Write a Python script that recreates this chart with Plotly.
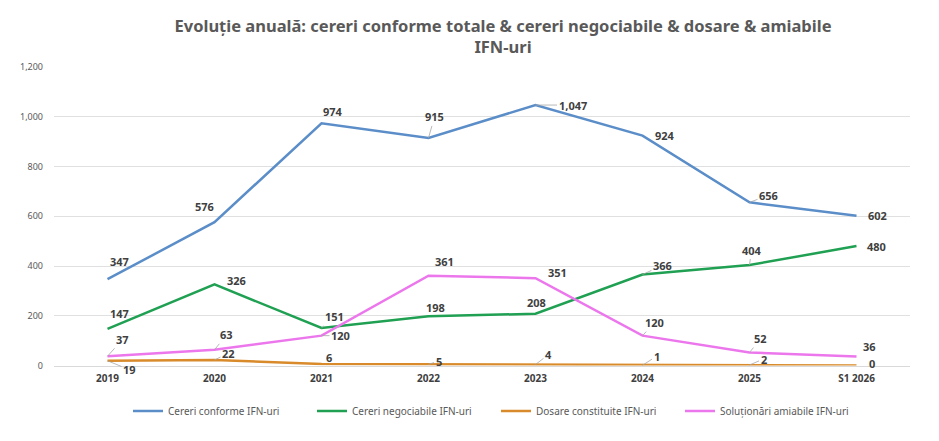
import plotly.graph_objects as go

# categorii (ani)
years = ["2019", "2020", "2021", "2022", "2023", "2024", "2025", "S1 2026"]

# serii
cereri_conforme = [347, 576, 974, 915, 1047, 924, 656, 602]
cereri_negociabile = [147, 326, 151, 198, 208, 366, 404, 480]
dosare_constituite = [19, 22, 6, 5, 4, 1, 2, 0]
solutionari_amiabile = [37, 63, 120, 361, 351, 120, 52, 36]

y_ticks = [0, 200, 400, 600, 800, 1000, 1200]

FONT = "Noto Sans"
TXT = "#404040"

series = [
    ("Cereri conforme IFN-uri", cereri_conforme, "#5b8ec8"),
    ("Cereri negociabile IFN-uri", cereri_negociabile, "#20a052"),
    ("Dosare constituite IFN-uri", dosare_constituite, "#d98b2b"),
    ("Soluționări amiabile IFN-uri", solutionari_amiabile, "#ec77ec"),
]

# deplasarea etichetelor (px) si daca au linie de legatura
label_offsets = [
    [(12, -18), (-10, -16), (11, -12), (6, -21), (37, 0), (22, 0), (19, -7), (21, 0)],
    [(12, -15), (22, -4), (13, -11), (7, -9), (1, -11), (20, -9), (2, -15), (20, 0)],
    [(22, 9), (14, -7), (7, -7), (10, -3), (13, -10), (14, -9), (14, -6), (15, -2)],
    [(15, -17), (12, -15), (19, 0), (16, -14), (22, -6), (12, -13), (11, -14), (13, -10)],
]
leaders = [
    [0, 0, 0, 1, 1, 0, 1, 0],
    [0, 0, 1, 0, 0, 1, 1, 0],
    [1, 1, 0, 1, 1, 1, 1, 0],
    [1, 1, 1, 0, 0, 1, 1, 0],
]

fig = go.Figure()
annotations = []
for i, (name, vals, color) in enumerate(series):
    fig.add_trace(go.Scatter(
        x=years, y=vals, mode="lines", name=name,
        line=dict(color=color, width=2.5),
    ))
    for j, v in enumerate(vals):
        dx, dy = label_offsets[i][j]
        # pe axa de categorii, x = indexul categoriei
        annotations.append(dict(
            x=j, y=v, xref="x", yref="y",
            text=f"{v:,}", showarrow=True, ax=dx, ay=dy,
            arrowhead=0, arrowwidth=0.8, standoff=0, startstandoff=0,
            arrowcolor="#a6a6a6" if leaders[i][j] else "rgba(0,0,0,0)",
            font=dict(family=FONT, size=11, color=TXT, weight="bold"),
        ))

fig.update_layout(
    width=939, height=441,
    margin=dict(l=44, r=37, t=59, b=83),
    paper_bgcolor="white", plot_bgcolor="white",
    title=dict(
        text="Evoluție anuală: cereri conforme totale & cereri negociabile & dosare & amiabile<br>IFN-uri",
        x=495 / 939, xref="container", xanchor="center",
        y=1 - 24 / 441, yref="container", yanchor="top",
        font=dict(family=FONT, size=16.5, color="#595959", weight="bold"),
    ),
    xaxis=dict(
        type="category", range=[-0.5, 7.5],
        showgrid=False, showline=True, linecolor="#d9d9d9", linewidth=1,
        ticks="", ticklabelstandoff=3,
        tickfont=dict(family=FONT, size=10, color=TXT, weight="bold"),
    ),
    yaxis=dict(
        range=[0, 1200], tickvals=y_ticks, tickformat=",",
        showgrid=True, gridcolor="#e0e0e0", gridwidth=1,
        zeroline=False, showline=False, ticks="", ticklabelstandoff=10,
        tickfont=dict(family=FONT, size=9, color="#595959"),
    ),
    legend=dict(
        orientation="h", xref="container", x=488 / 939, xanchor="center",
        yref="container", y=1 - 403 / 441, yanchor="middle",
        entrywidth=139, itemwidth=30,
        font=dict(family=FONT, size=10, color="#595959"),
    ),
    annotations=annotations,
)

fig.write_html("out.html")
